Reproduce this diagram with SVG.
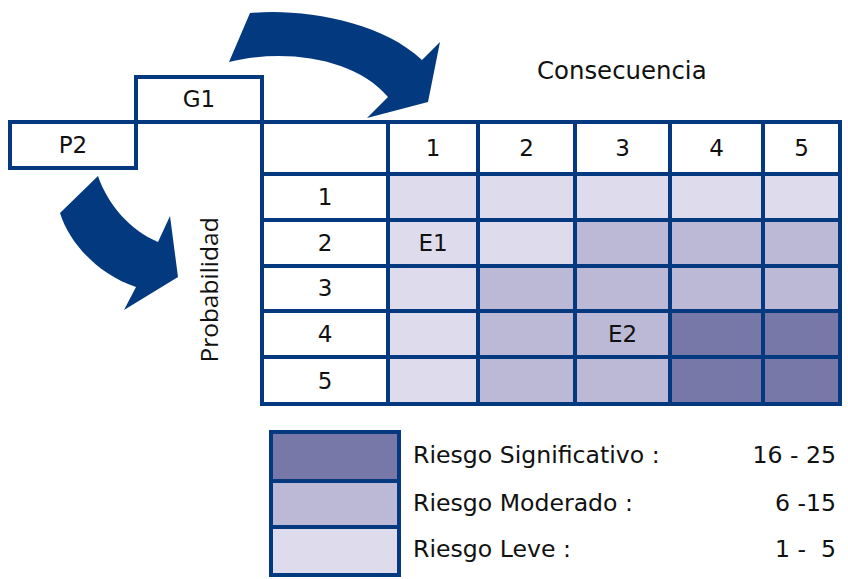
<svg xmlns="http://www.w3.org/2000/svg" width="848" height="579" viewBox="0 0 848 579">
<style>
.ln{stroke:#04397f;stroke-width:4;fill:none;stroke-linecap:square}
.t{font-family:"DejaVu Sans",Verdana,sans-serif;font-size:23px;fill:#111}
.lg{font-size:23.6px}
.c{text-anchor:middle}
.e{text-anchor:end}
.L{fill:#dedcec}.M{fill:#bbb9d6}.D{fill:#7777a8}
.arrow{fill:#03397f}
</style>
<rect width="848" height="579" fill="#fff"/>
<g id="connectors">
<path class="arrow" d="M250,13 C300,8 380,20 422,60 L440,42 L428,102 L367,118 L388,97 C355,58 285,48 229,62 Z"/>
<path class="arrow" d="M98,176 C108,205 130,230 158,242 L170,216 L178,277 L124,310 L136,287 C100,275 70,245 60,213 Z"/>
</g>
<g id="cells">
<rect class="L" x="388" y="174" width="90" height="46"/>
<rect class="L" x="478" y="174" width="97" height="46"/>
<rect class="L" x="575" y="174" width="95" height="46"/>
<rect class="L" x="670" y="174" width="93" height="46"/>
<rect class="L" x="763" y="174" width="77" height="46"/>
<rect class="L" x="388" y="220" width="90" height="46"/>
<rect class="L" x="478" y="220" width="97" height="46"/>
<rect class="M" x="575" y="220" width="95" height="46"/>
<rect class="M" x="670" y="220" width="93" height="46"/>
<rect class="M" x="763" y="220" width="77" height="46"/>
<rect class="L" x="388" y="266" width="90" height="45"/>
<rect class="M" x="478" y="266" width="97" height="45"/>
<rect class="M" x="575" y="266" width="95" height="45"/>
<rect class="M" x="670" y="266" width="93" height="45"/>
<rect class="M" x="763" y="266" width="77" height="45"/>
<rect class="L" x="388" y="311" width="90" height="46"/>
<rect class="M" x="478" y="311" width="97" height="46"/>
<rect class="M" x="575" y="311" width="95" height="46"/>
<rect class="D" x="670" y="311" width="93" height="46"/>
<rect class="D" x="763" y="311" width="77" height="46"/>
<rect class="L" x="388" y="357" width="90" height="47"/>
<rect class="M" x="478" y="357" width="97" height="47"/>
<rect class="M" x="575" y="357" width="95" height="47"/>
<rect class="D" x="670" y="357" width="93" height="47"/>
<rect class="D" x="763" y="357" width="77" height="47"/>
</g>
<g id="grid">
<path class="ln" d="M10,122 H840 M262,174 H840 M262,220 H840 M262,266 H840 M262,311 H840 M262,357 H840 M262,404 H840 M262,77 V404 M388,122 V404 M478,122 V404 M575,122 V404 M670,122 V404 M763,122 V404 M840,122 V404"/>
</g>
<g id="node-G1">
<path class="ln" d="M136,122 V77 H262 V122"/>
<text class="t c" x="199" y="107">G1</text>
</g>
<g id="node-P2">
<path class="ln" d="M10,122 V168 H136 V122"/>
<text class="t c" x="73" y="153">P2</text>
</g>
<g id="labels">
<text class="t" x="537" y="79" style="font-size:24.4px">Consecuencia</text>
<text transform="translate(218,290) rotate(-90)" text-anchor="middle" style="font-family:'Open Sans','Noto Sans',sans-serif;font-size:24.5px;fill:#111">Probabilidad</text>
<text class="t c" x="433" y="156">1</text>
<text class="t c" x="526.5" y="156">2</text>
<text class="t c" x="622.5" y="156">3</text>
<text class="t c" x="716.5" y="156">4</text>
<text class="t c" x="801.5" y="156">5</text>
<text class="t c" x="325" y="205">1</text>
<text class="t c" x="325" y="251">2</text>
<text class="t c" x="325" y="296">3</text>
<text class="t c" x="325" y="342">4</text>
<text class="t c" x="325" y="389">5</text>
<text class="t c" x="433" y="251">E1</text>
<text class="t c" x="622.5" y="342">E2</text>
</g>
<g id="legend">
<rect class="D" x="271" y="432" width="128" height="49"/>
<rect class="M" x="271" y="481" width="128" height="46"/>
<rect class="L" x="271" y="527" width="128" height="48"/>
<path class="ln" d="M271,432 H399 V575 H271 Z M271,481 H399 M271,527 H399"/>
<text class="t lg" x="413" y="463">Riesgo Significativo :</text>
<text class="t lg" x="413" y="511">Riesgo Moderado :</text>
<text class="t lg" x="413" y="557">Riesgo Leve :</text>
<text class="t lg e" x="836" y="463">16 - 25</text>
<text class="t lg e" x="836" y="511">6 -15</text>
<text class="t lg e" x="836" y="557" xml:space="preserve">1 -  5</text>
</g>
</svg>
